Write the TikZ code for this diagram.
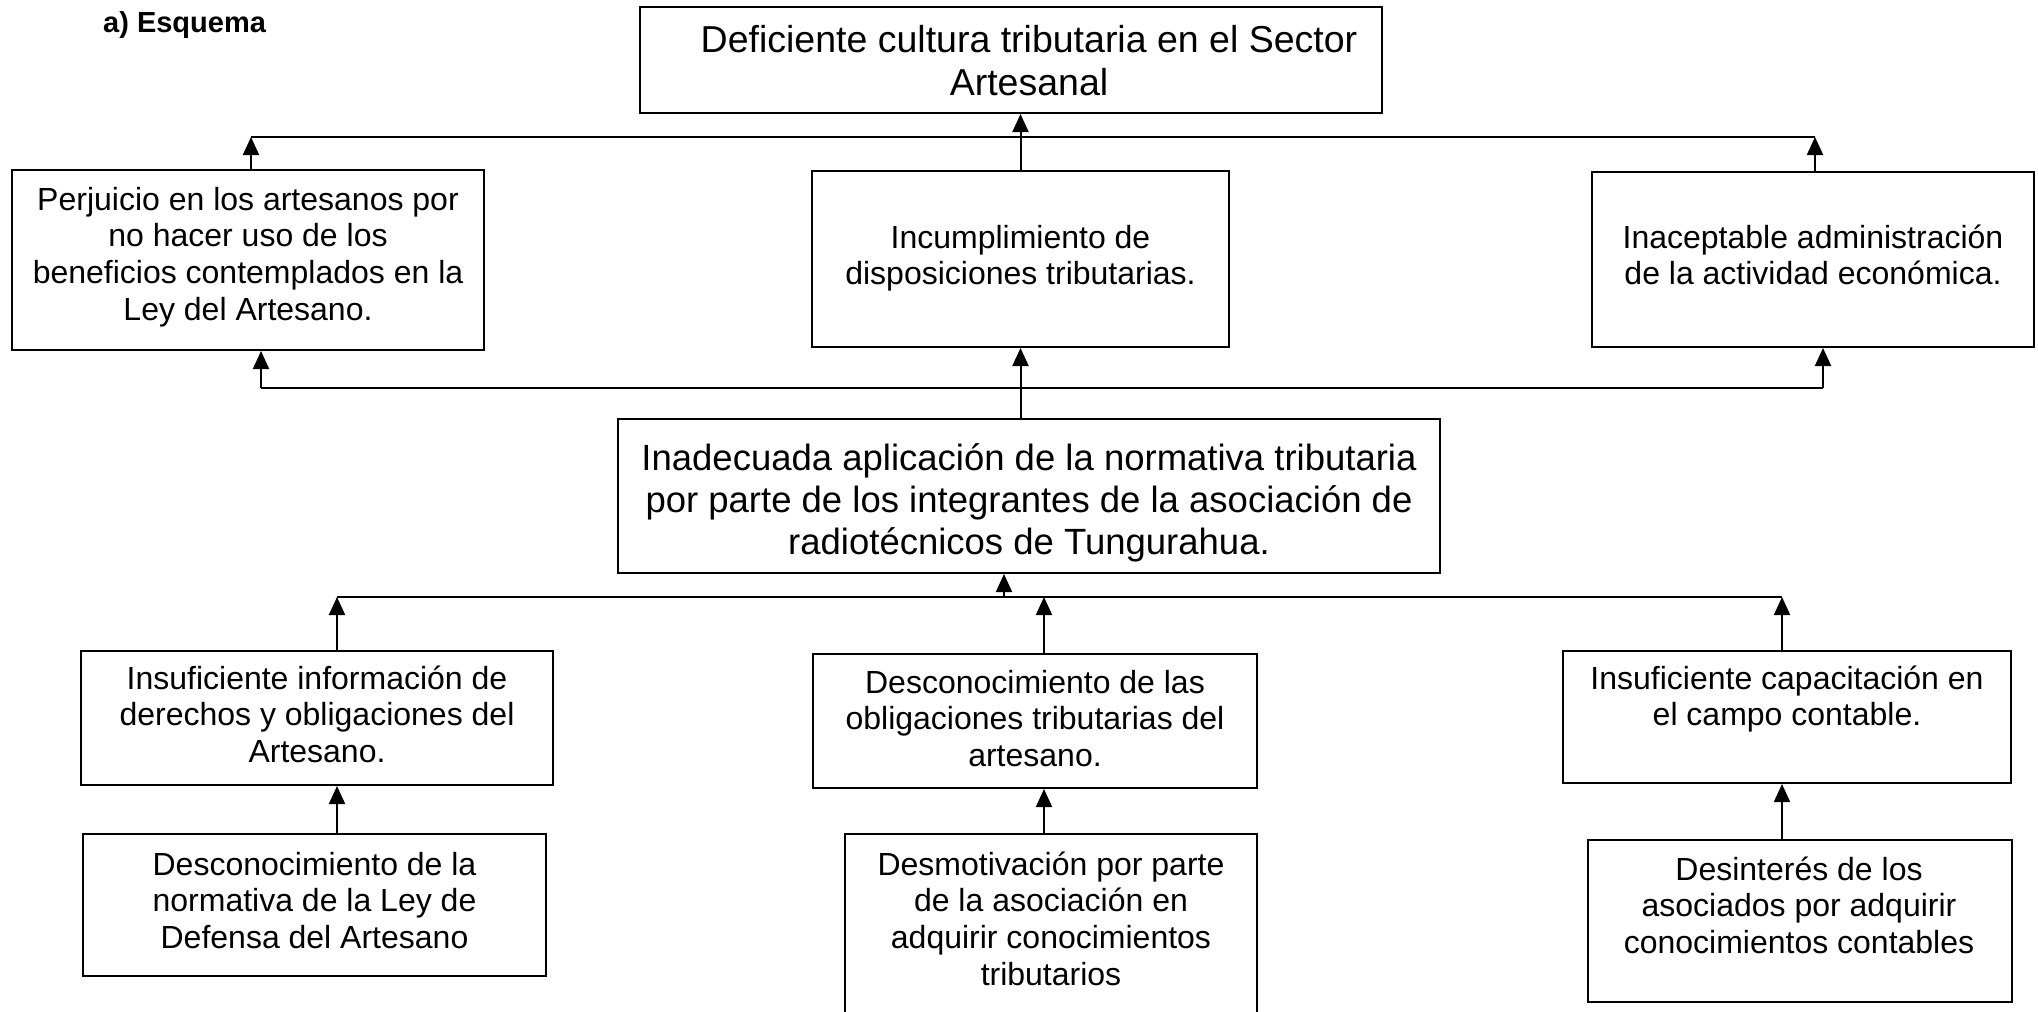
\documentclass[tikz,border=0pt]{standalone}
\usepackage{fontspec}
\setmainfont{Liberation Sans}
\usetikzlibrary{arrows.meta}
\begin{document}
\begin{tikzpicture}[x=1pt,y=-1pt,
  box/.style={draw=black,line width=2pt,inner sep=0pt,rectangle},
  txt/.style={anchor=north,inner sep=0pt,align=center,font=\fontsize{32}{36.7}\selectfont},
  toptxt/.style={anchor=north,inner sep=0pt,align=center,font=\fontsize{37.5}{43}\selectfont},
  bigtxt/.style={anchor=north,inner sep=0pt,align=center,font=\fontsize{36.5}{42.3}\selectfont},
  con/.style={line width=2pt,draw=black},
  arr/.style={con,-{Triangle[length=18pt,width=16pt]}}]
\useasboundingbox (0,0) rectangle (2038,1012);

\node[anchor=base west,inner sep=0pt,font=\fontsize{29}{33}\selectfont\bfseries] (title) at (103,32) {a) Esquema};

% boxes
\node[box,minimum width=742pt,minimum height=106pt] (top) at (1011,60) {};
\node[box,minimum width=472pt,minimum height=180pt] (perj) at (248,260) {};
\node[box,minimum width=417pt,minimum height=176pt] (incu) at (1020.5,259) {};
\node[box,minimum width=442pt,minimum height=175pt] (inac) at (1813,259.5) {};
\node[box,minimum width=822pt,minimum height=154pt] (inad) at (1029,496) {};
\node[box,minimum width=472pt,minimum height=134pt] (insu) at (317,718) {};
\node[box,minimum width=444pt,minimum height=134pt] (desl) at (1035,721) {};
\node[box,minimum width=448pt,minimum height=132pt] (capa) at (1787,717) {};
\node[box,minimum width=463pt,minimum height=142pt] (norm) at (314.5,905) {};
\node[box,minimum width=412pt,minimum height=196pt] (desm) at (1051,932) {};
\node[box,minimum width=424pt,minimum height=162pt] (desi) at (1800,921) {};

% texts
\node[toptxt] (topT) at (1029,22) {\strut Deficiente cultura tributaria en el Sector\\Artesanal};
\node[txt] (perjT) at (248,184.3) {\strut Perjuicio en los artesanos por\\no hacer uso de los\\beneficios contemplados en la\\Ley del Artesano.};
\node[txt] (incuT) at (1020.5,222.3) {\strut Incumplimiento de\\disposiciones tributarias.};
\node[txt] (inacT) at (1813,222.3) {\strut Inaceptable administración\\de la actividad económica.};
\node[bigtxt] (inadT) at (1029,440.4) {\strut Inadecuada aplicación de la normativa tributaria\\por parte de los integrantes de la asociación de\\radiotécnicos de Tungurahua.};
\node[txt] (insuT) at (317,663.3) {\strut Insuficiente información de\\derechos y obligaciones del\\Artesano.};
\node[txt] (deslT) at (1035,667.3) {\strut Desconocimiento de las\\obligaciones tributarias del\\artesano.};
\node[txt] (capaT) at (1787,663.3) {\strut Insuficiente capacitación en\\el campo contable.};
\node[txt] (normT) at (314.5,849.3) {\strut Desconocimiento de la\\normativa de la Ley de\\Defensa del Artesano};
\node[txt] (desmT) at (1051,849.3) {\strut Desmotivación por parte\\de la asociación en\\adquirir conocimientos\\tributarios};
\node[txt] (desiT) at (1799,854.3) {\strut Desinterés de los\\asociados por adquirir\\conocimientos contables};

% upper connectors
\coordinate (aL) at (251,137);
\coordinate (aR) at (1815,137);
\draw[con] (aL) -- (aR);
\draw[arr] (perj.north -| aL) -- (aL);
\draw[arr] (inac.north -| aR) -- (aR);
\draw[arr] (incu.north) -- (incu.north |- top.south);

\coordinate (bL) at (261,388);
\coordinate (bR) at (1823,388);
\draw[con] (bL) -- (bR);
\draw[arr] (bL) -- (bL |- perj.south);
\draw[arr] (bR) -- (bR |- inac.south);
\draw[arr] (inad.north -| incu.south) -- (incu.south);

% lower connectors
\coordinate (cL) at (337,597);
\coordinate (cR) at (1782,597);
\coordinate (cM) at (1004,597);
\coordinate (cD) at (1044,597);
\draw[con] (cL) -- (cR);
\draw[arr] (cM) -- (cM |- inad.south);
\draw[arr] (insu.north -| cL) -- (cL);
\draw[arr] (desl.north -| cD) -- (cD);
\draw[arr] (capa.north -| cR) -- (cR);
\draw[arr] (norm.north -| cL) -- (insu.south -| cL);
\draw[arr] (desm.north -| cD) -- (desl.south -| cD);
\draw[arr] (desi.north -| cR) -- (capa.south -| cR);
\end{tikzpicture}
\end{document}
